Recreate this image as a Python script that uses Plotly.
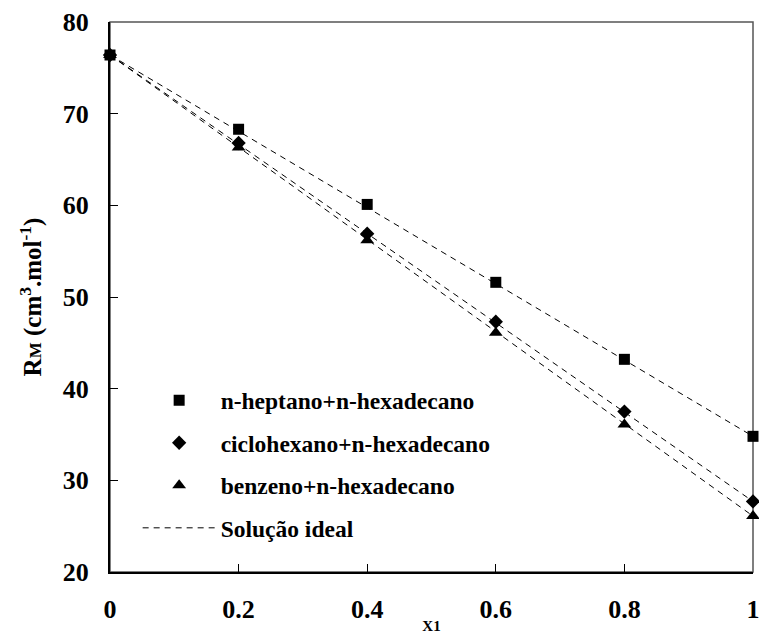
import plotly.graph_objects as go

# Mole fraction of the lighter component
x1 = [0, 0.2, 0.4, 0.6, 0.8, 1.0]

# Molar refraction RM (cm3/mol) for each binary mixture
rm_heptano = [76.4, 68.3, 60.1, 51.6, 43.2, 34.8]
rm_ciclohexano = [76.4, 66.8, 56.9, 47.3, 37.5, 27.7]
rm_benzeno = [76.4, 66.3, 56.2, 46.1, 36.1, 26.1]

series_names = [
    "n-heptano+n-hexadecano",
    "ciclohexano+n-hexadecano",
    "benzeno+n-hexadecano",
]
ideal_name = "Solução ideal"

y_ticks = [20, 30, 40, 50, 60, 70, 80]
x_ticks = [0, 0.2, 0.4, 0.6, 0.8, 1.0]
x_tick_text = ["0", "0.2", "0.4", "0.6", "0.8", "1"]

SERIF = "Times New Roman, Liberation Serif, serif"

fig = go.Figure()

series = [rm_heptano, rm_ciclohexano, rm_benzeno]
symbols = ["square", "diamond", "triangle-up"]
sizes = [11, 11, 12]

for i, ys in enumerate(series):
    fig.add_trace(go.Scatter(
        x=x1, y=ys,
        mode="markers",
        marker=dict(symbol=symbols[i], size=sizes[i], color="black"),
        name=series_names[i],
        legendgroup=f"g{i+1}",
        cliponaxis=False,
    ))

# Ideal-solution lines: linear mixing between the pure-component values
for i, ys in enumerate(series):
    fig.add_trace(go.Scatter(
        x=[x1[0], x1[-1]], y=[ys[0], ys[-1]],
        mode="lines",
        line=dict(color="black", width=1, dash="6px,5px"),
        name=ideal_name,
        showlegend=(i == 0),
        legendgroup="g4",
        hoverinfo="skip",
    ))

fig.update_layout(
    width=759, height=634,
    margin=dict(l=110, r=6, t=22, b=62),
    plot_bgcolor="white",
    paper_bgcolor="white",
    font=dict(family=SERIF, color="black"),
    showlegend=True,
    legend=dict(
        x=0.043, y=0.352, xanchor="left", yanchor="top",
        bgcolor="rgba(0,0,0,0)",
        font=dict(family=SERIF, size=23.5, weight="bold", color="black"),
        itemwidth=73,
        tracegroupgap=9,
        traceorder="grouped",
    ),
    shapes=[dict(
        type="rect", xref="paper", yref="paper",
        x0=0, y0=0, x1=1, y1=1,
        line=dict(color="#555555", width=1.5),
        layer="below",
    )],
)

fig.update_xaxes(
    range=[0, 1],
    automargin=False,
    tickvals=x_ticks, ticktext=x_tick_text,
    ticklabeloverflow="allow",
    ticks="inside", ticklen=8, tickwidth=1, tickcolor="black",
    showline=True, linecolor="black", linewidth=2,
    showgrid=False, zeroline=False,
    tickfont=dict(family=SERIF, size=26, weight="bold"),
    ticklabelstandoff=13,
    title=dict(text="X1", font=dict(family=SERIF, size=15, weight="bold"), standoff=5),
)

fig.update_yaxes(
    range=[20, 80],
    automargin=False,
    tickvals=y_ticks,
    ticklabeloverflow="allow",
    ticks="inside", ticklen=8, tickwidth=1, tickcolor="black",
    showline=True, linecolor="black", linewidth=2,
    showgrid=False, zeroline=False,
    tickfont=dict(family=SERIF, size=26, weight="bold"),
    ticklabelstandoff=14,
    title=dict(
        text="R<span style='font-size:17px'>M</span> (cm<sup>3</sup>.mol<sup>-1</sup>)",
        font=dict(family=SERIF, size=25, weight="bold"),
        standoff=14,
    ),
)

fig.write_html("out.html")
